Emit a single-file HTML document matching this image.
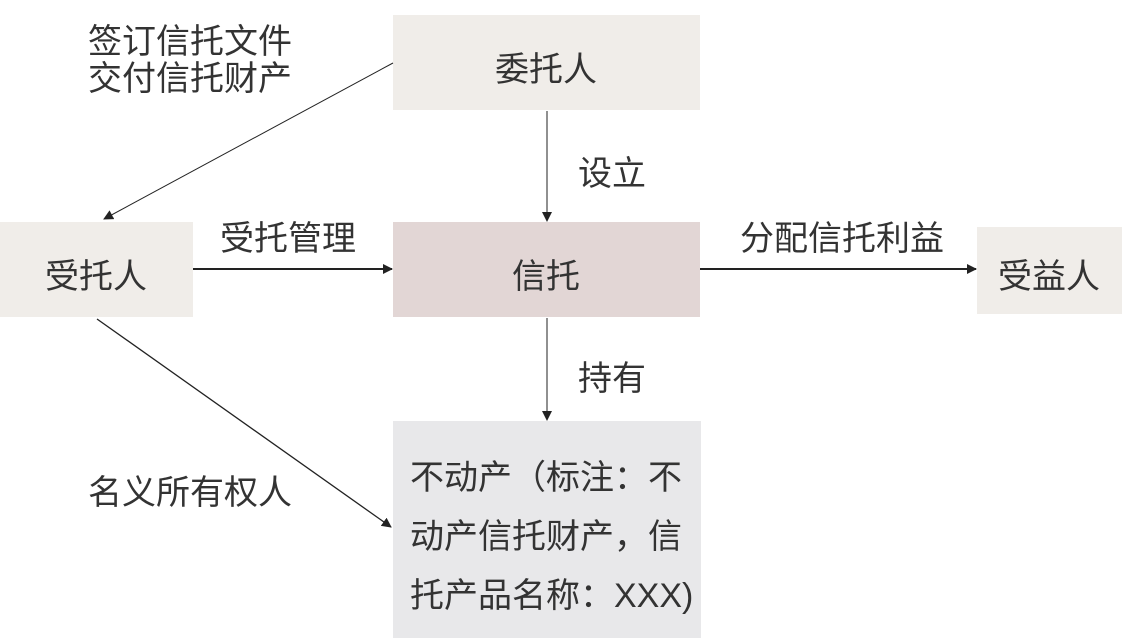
<!DOCTYPE html>
<html><head><meta charset="utf-8"><style>
html,body{margin:0;padding:0;background:#fff;}
svg text{font-family:"Liberation Sans","Noto Sans CJK SC",sans-serif;fill:#333;font-size:34px;}
</style></head><body>
<svg width="1122" height="638" viewBox="0 0 1122 638" xmlns="http://www.w3.org/2000/svg">
<defs><marker id="a" markerWidth="10" markerHeight="10" refX="9" refY="5" orient="auto" markerUnits="userSpaceOnUse"><path d="M0,0 L10,5 L0,10 z" fill="#222"/></marker></defs>
<rect x="393" y="15" width="307" height="95" fill="#f0ede9"/>
<rect x="393" y="222" width="307" height="95" fill="#e2d6d5"/>
<rect x="0" y="222" width="193" height="95" fill="#f0ede9"/>
<rect x="977" y="227" width="145" height="87" fill="#f0ede9"/>
<rect x="393" y="421" width="308" height="217" fill="#e8e8ea"/>
<g stroke="#222" fill="none">
<line x1="393" y1="63" x2="104" y2="219" stroke-width="1" marker-end="url(#a)"/>
<line x1="547" y1="111" x2="547" y2="221" stroke-width="1" marker-end="url(#a)"/>
<line x1="193" y1="269" x2="392" y2="269" stroke-width="2" marker-end="url(#a)"/>
<line x1="700" y1="269" x2="976" y2="269" stroke-width="2" marker-end="url(#a)"/>
<line x1="547" y1="318" x2="547" y2="420" stroke-width="1" marker-end="url(#a)"/>
<line x1="97" y1="319" x2="391" y2="527" stroke-width="1.3" marker-end="url(#a)"/>
</g>
<text x="546" y="81" text-anchor="middle">委托人</text>
<text x="546" y="288" text-anchor="middle">信托</text>
<text x="96" y="288" text-anchor="middle">受托人</text>
<text x="1049" y="288" text-anchor="middle">受益人</text>
<text x="88" y="53">签订信托文件</text>
<text x="88" y="90">交付信托财产</text>
<text x="578" y="185">设立</text>
<text x="220" y="250">受托管理</text>
<text x="740" y="250">分配信托利益</text>
<text x="578" y="390">持有</text>
<text x="88" y="504">名义所有权人</text>
<text x="410" y="489">不动产（标注：不</text>
<text x="410" y="548">动产信托财产，信</text>
<text x="410" y="607">托产品名称：XXX)</text>
</svg>
</body></html>
